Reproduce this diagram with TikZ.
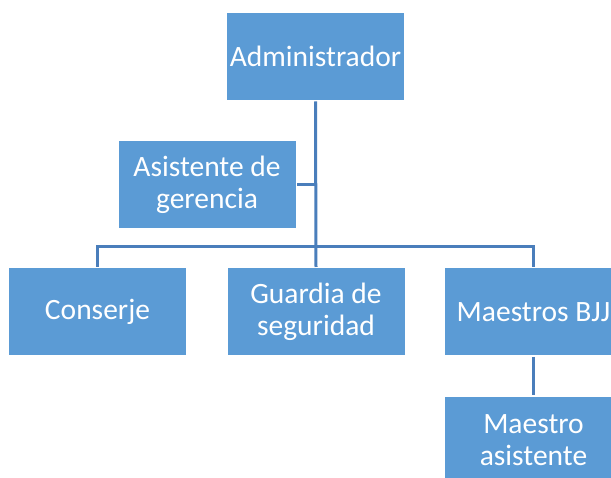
\documentclass[tikz,border=0pt]{standalone}
\usepackage{fontspec}
\setmainfont{Carlito}
\definecolor{boxblue}{HTML}{5B9BD5}
\definecolor{lineblue}{HTML}{4A7EBB}
\tikzset{
  orgbox/.style={fill=boxblue, text=white, minimum width=177pt, minimum height=87pt,
    align=center, inner sep=0pt, outer sep=1.5pt, font=\fontsize{29.5}{32}\selectfont},
  orgline/.style={draw=lineblue, line width=3pt}
}
\begin{document}
\begin{tikzpicture}[x=1pt, y=-1pt]
	\useasboundingbox (0, 0) rectangle (611, 478);

	\node [orgbox] (adm) at (315.5, 56.5) {Administrador};
	\node [orgbox] (asis) at (207, 184.5) {Asistente de\\gerencia};
	\node [orgbox] (cons) at (97.5, 312) {Conserje};
	\node [orgbox] (guard) at (316, 312) {Guardia de\\seguridad};
	\node [orgbox] (maes) at (533.5, 312) {Maestros BJJ};
	\node [orgbox] (masis) at (533.5, 440.5) {Maestro\\asistente};

	\draw [orgline] (adm.south) -- (guard.north);
	\draw [orgline] (asis.east) -- (asis.east -| adm.south);
	\draw [orgline] (cons.north) -- ++(0, -20) -| (maes.north);
	\draw [orgline] (maes.south) -- (masis.north);
\end{tikzpicture}
\end{document}
